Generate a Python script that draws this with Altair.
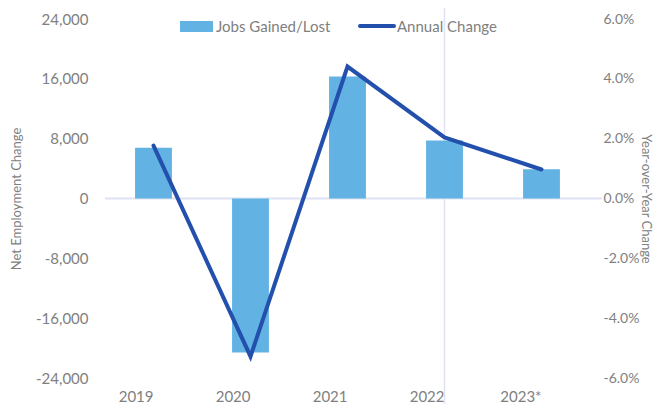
import altair as alt
import pandas as pd

years = ["2019", "2020", "2021", "2022", "2023*"]
jobs = [6800, -20600, 16300, 7750, 3900]
annual_change = [0.0177, -0.0528, 0.0441, 0.0204, 0.0097]

df = pd.DataFrame({"year": years, "jobs": jobs, "pct": annual_change})

FONT = "Lato"
GRAY = "#808080"
BAR = "#62b3e4"
LINE = "#2350ac"
PALE = "#dfe2f3"

W, H = 485, 359

x_enc = alt.X("year:N", sort=years,
              scale=alt.Scale(paddingInner=0.62, paddingOuter=0.31),
              axis=alt.Axis(title=None, labelAngle=0, ticks=False, domain=False,
                            labelPadding=18, labelFont=FONT, labelFontSize=15,
                            labelColor=GRAY))

left_axis = alt.Axis(values=[-24000, -16000, -8000, 0, 8000, 16000, 24000],
                     labelExpr="replace(format(datum.value, ','), '\u2212', '-')",
                     title="Net Employment Change",
                     titleFont=FONT, titleFontSize=13, titleFontWeight="normal",
                     titleColor=GRAY, titlePadding=12,
                     labelFont=FONT, labelFontSize=15, labelColor=GRAY,
                     labelPadding=17, ticks=False, domain=False, grid=False)
left_scale = alt.Scale(domain=[-24000, 24000], nice=False)

vline = alt.Chart(pd.DataFrame({"year": ["2022"]})).mark_rule(
    color=PALE, strokeWidth=1.5).encode(
    x=alt.X("year:N", sort=years), y=alt.value(-19), y2=alt.value(H + 34))

zero = alt.Chart(pd.DataFrame({"jobs": [0]})).mark_rule(
    color=PALE, strokeWidth=2).encode(
    y=alt.Y("jobs:Q", scale=left_scale, axis=left_axis),
    x=alt.value(0), x2=alt.value(W + 12))

bars = alt.Chart(df).mark_bar(color=BAR).encode(
    x=x_enc,
    y=alt.Y("jobs:Q", scale=left_scale, axis=left_axis),
)

left = alt.layer(vline, zero, bars)

line = alt.Chart(df).mark_line(color=LINE, strokeWidth=4, strokeCap="round").encode(
    x=alt.X("year:N", sort=years),
    y=alt.Y("pct:Q", scale=alt.Scale(domain=[-0.06, 0.06], nice=False),
            axis=alt.Axis(orient="right", values=[-0.06, -0.04, -0.02, 0, 0.02, 0.04, 0.06],
                          labelExpr="replace(format(datum.value, '.1%'), '\u2212', '-')",
                          title="Year-over-Year Change",
                          titleFont=FONT, titleFontSize=13, titleFontWeight="normal",
                          titleColor=GRAY, titlePadding=0,
                          labelFont=FONT, labelFontSize=14, labelColor=GRAY,
                          labelPadding=13, ticks=False, domain=False, grid=False)),
)

leg_rect = alt.Chart(pd.DataFrame({"a": [0]})).mark_rect(color=BAR).encode(
    x=alt.value(75), x2=alt.value(108), y=alt.value(2), y2=alt.value(13))
leg_line = alt.Chart(pd.DataFrame({"a": [0]})).mark_rule(
    color=LINE, strokeWidth=4, strokeCap="round").encode(
    x=alt.value(255), x2=alt.value(289), y=alt.value(7))
leg_t1 = alt.Chart(pd.DataFrame({"t": ["Jobs Gained/Lost"]})).mark_text(
    align="left", baseline="middle", font=FONT, fontSize=15, color=GRAY).encode(
    x=alt.value(111), y=alt.value(8), text="t:N")
leg_t2 = alt.Chart(pd.DataFrame({"t": ["Annual Change"]})).mark_text(
    align="left", baseline="middle", font=FONT, fontSize=15, color=GRAY).encode(
    x=alt.value(292), y=alt.value(8), text="t:N")

chart = alt.layer(left, line, leg_rect, leg_line, leg_t1, leg_t2).resolve_scale(
    y="independent").properties(
    width=W, height=H,
    autosize=alt.AutoSizeParams(type="none"),
    padding={"left": 97, "top": 11, "right": 67, "bottom": 26},
).configure_view(stroke=None)

chart.save("out.html", embed_options={"renderer": "svg", "actions": False})
